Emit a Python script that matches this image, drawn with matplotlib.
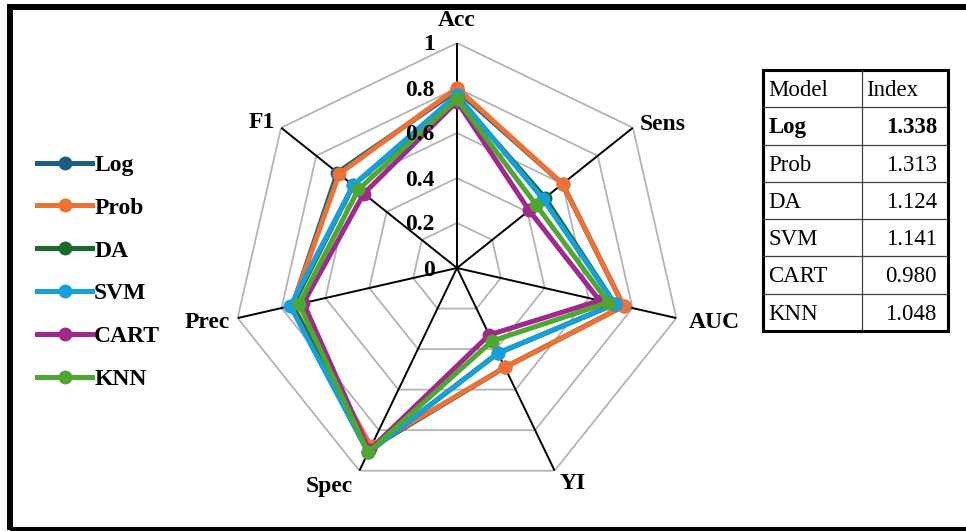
import numpy as np
import matplotlib
matplotlib.use('Agg')
import matplotlib.pyplot as plt
from matplotlib.lines import Line2D
from matplotlib.patches import Rectangle
from matplotlib.transforms import offset_copy

plt.rcParams['font.family'] = ['Liberation Serif', 'DejaVu Serif']

axes_names = ['Acc', 'Sens', 'AUC', 'YI', 'Spec', 'Prec', 'F1']
models = ['Log', 'Prob', 'DA', 'SVM', 'CART', 'KNN']
colors = ['#1b5e83', '#ed7233', '#1a6b2a', '#16a0db', '#a0288f', '#4ea72e']

log_vals = [0.79, 0.60, 0.76, 0.49, 0.89, 0.75, 0.68]
prob_vals = [0.80, 0.60, 0.76, 0.49, 0.88, 0.75, 0.67]
da_vals = [0.76, 0.50, 0.72, 0.42, 0.91, 0.75, 0.59]
svm_vals = [0.77, 0.49, 0.72, 0.42, 0.91, 0.76, 0.59]
cart_vals = [0.74, 0.41, 0.65, 0.33, 0.90, 0.70, 0.53]
knn_vals = [0.75, 0.45, 0.69, 0.36, 0.91, 0.72, 0.56]
series = [log_vals, prob_vals, da_vals, svm_vals, cart_vals, knn_vals]

rticks = [0, 0.2, 0.4, 0.6, 0.8, 1]
rtick_labels = ['0', '0.2', '0.4', '0.6', '0.8', '1']

table_models = ['Log', 'Prob', 'DA', 'SVM', 'CART', 'KNN']
table_index = ['1.338', '1.313', '1.124', '1.141', '0.980', '1.048']

W, H = 966, 531
fig = plt.figure(figsize=(W / 100, H / 100), dpi=100)

# outer frame (right side runs off the picture)
fig.add_artist(Rectangle((10 / W, 1 - 530 / H), 1.2, (530 - 7) / H,
                         transform=fig.transFigure, fill=False,
                         edgecolor='black', linewidth=4.3, clip_on=False))

cx, cy, R = 457, 268, 225
ax = fig.add_axes([(cx - R) / W, (H - cy - R) / H, 2 * R / W, 2 * R / H],
                  projection='polar')
ax.set_theta_zero_location('N')
ax.set_theta_direction(-1)
ax.set_ylim(0, 1)
ax.grid(False)
ax.set_xticks([])
ax.set_yticks([])
ax.spines['polar'].set_visible(False)
ax.patch.set_alpha(0)

n = len(axes_names)
theta = np.arange(n) * 2 * np.pi / n
theta_c = np.append(theta, theta[0])

for r in rticks[1:]:
    ax.plot(theta_c, [r] * (n + 1), color='#b4b4b4', lw=1.3, zorder=1)
for t in theta:
    ax.plot([t, t], [0, 1], color='black', lw=1.4, zorder=2)

for vals, c in zip(series, colors):
    v = vals + vals[:1]
    ax.plot(theta_c, v, color=c, lw=3.6, marker='o', ms=9, zorder=3,
            clip_on=False)

for r, lab in zip(rticks, rtick_labels):
    tr = offset_copy(ax.transData, fig=fig, x=-22, y=-2, units='dots')
    ax.text(0, r, lab, transform=tr, ha='right', va='center',
            fontsize=17, fontweight='bold')

label_offsets = [(0, 23, 'center'), (7, 3, 'left'), (12, -4, 'left'),
                 (5, -13, 'left'), (-7, -16, 'right'), (-8, -4, 'right'),
                 (-6, 5, 'right')]
for t, name, (dx, dy, ha) in zip(theta, axes_names, label_offsets):
    tr = offset_copy(ax.transData, fig=fig, x=dx, y=dy, units='dots')
    ax.text(t, 1, name, transform=tr, ha=ha, va='center',
            fontsize=17, fontweight='bold')

# legend
handles = [Line2D([], [], color=c, lw=3.6, marker='o', ms=9) for c in colors]
fig.legend(handles, models, loc='upper left',
           bbox_to_anchor=(28 / W, 1 - 145 / H), frameon=False,
           prop={'size': 17, 'weight': 'bold'}, handlelength=2.3,
           handletextpad=0.1, labelspacing=0.9, borderaxespad=0)

# table
tl, tr_, tt, tb = 763, 948, 70, 331
tax = fig.add_axes([tl / W, (H - tb) / H, (tr_ - tl) / W, (tb - tt) / H])
tax.set_xlim(0, 1)
tax.set_ylim(7, 0)
tax.axis('off')
nrow = len(table_models) + 1
for i in range(1, nrow):
    tax.plot([0, 1], [i, i], color='#404040', lw=0.9)
split = (862 - tl) / (tr_ - tl)
tax.plot([split, split], [0, nrow], color='#404040', lw=0.9)
tax.add_patch(Rectangle((0, 0), 1, nrow, fill=False, edgecolor='black',
                        lw=2.2, clip_on=False))
tax.text(0.03, 0.55, 'Model', ha='left', va='center', fontsize=16.5)
tax.text(split + 0.02, 0.55, 'Index', ha='left', va='center', fontsize=16.5)
for i, (m, v) in enumerate(zip(table_models, table_index)):
    fw = 'bold' if i == 0 else 'normal'
    tax.text(0.03, i + 1.55, m, ha='left', va='center', fontsize=16.5,
             fontweight=fw)
    tax.text(0.94, i + 1.55, v, ha='right', va='center', fontsize=16.5,
             fontweight=fw)

fig.savefig('out.png', dpi=100)
